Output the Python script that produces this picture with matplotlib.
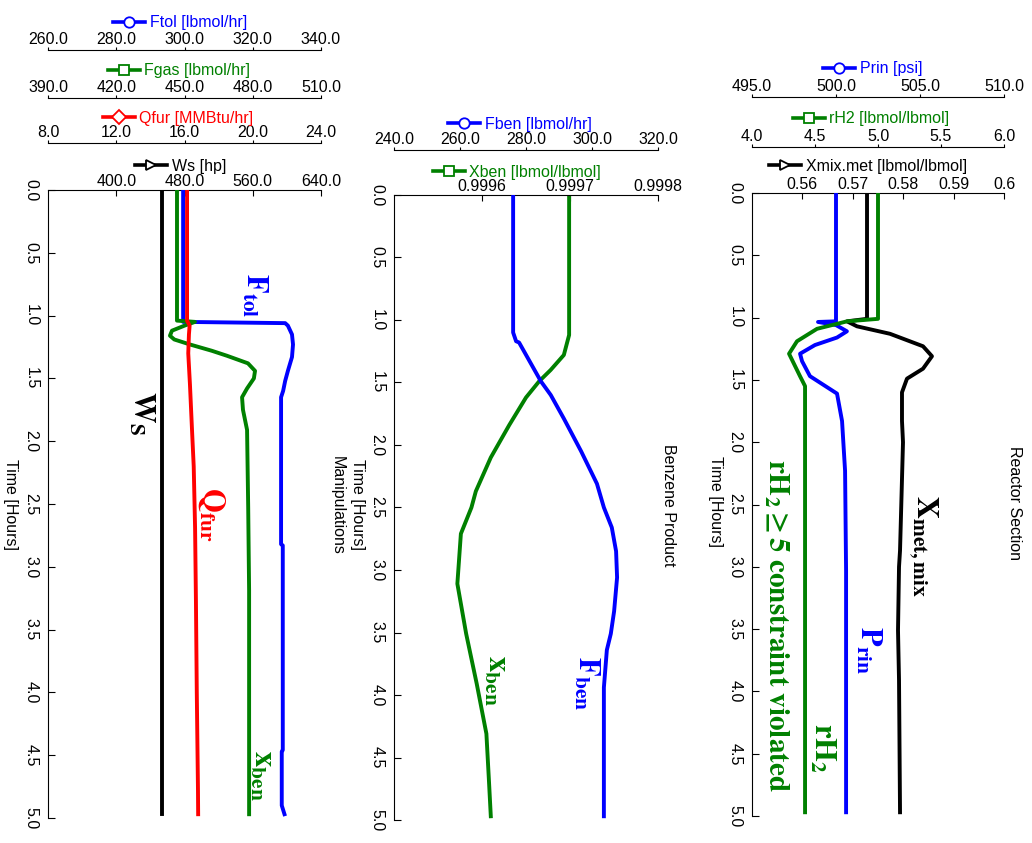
import matplotlib
matplotlib.use('Agg')
import matplotlib.pyplot as plt
from matplotlib.lines import Line2D

plt.rcParams['font.family'] = ['Liberation Sans', 'DejaVu Sans']
plt.rcParams['mathtext.fontset'] = 'stix'

# ---- data (time in hours, values in each variable's own units) ----
time_ticks = [0, 0.5, 1, 1.5, 2, 2.5, 3, 3.5, 4, 4.5, 5]
time_labels = ['0.0', '0.5', '1.0', '1.5', '2.0', '2.5', '3.0', '3.5', '4.0', '4.5', '5.0']

# Manipulations
ws_t = [0, 4.97]
ws = [454, 454]
ftol_t = [0, 1.05, 1.06, 1.08, 1.15, 1.23, 1.33, 1.44, 1.52, 1.60, 1.65, 2.82, 2.83, 4.46, 4.47, 4.90, 4.97]
ftol = [299.6, 299.6, 329.5, 330.3, 331.5, 331.8, 331.5, 330.3, 329.5, 328.9, 328.3, 328.3, 328.8, 328.8, 328.5, 328.5, 329.3]
fgas_t = [0, 1.04, 1.05, 1.08, 1.12, 1.16, 1.19, 1.23, 1.28, 1.32, 1.38, 1.44, 1.50, 1.58, 1.65, 1.75, 1.91, 2.53, 3.19, 4.97]
fgas = [446.7, 446.7, 454.6, 450.0, 444.5, 443.6, 445.5, 452.4, 462.0, 468.7, 477.9, 481.0, 480.5, 477.5, 475.3, 475.7, 477.5, 478.0, 478.4, 478.4]
qfur_t = [0, 1.04, 1.08, 1.15, 1.30, 1.55, 1.91, 2.20, 2.69, 3.27, 4.00, 4.78, 4.97]
qfur = [16.15, 16.15, 16.30, 16.26, 16.22, 16.32, 16.44, 16.54, 16.62, 16.67, 16.72, 16.79, 16.80]

# Benzene product
fben_t = [0, 1.10, 1.17, 1.18, 1.49, 1.60, 1.79, 2.05, 2.31, 2.50, 2.66, 2.85, 3.06, 3.33, 3.51, 3.64, 3.94, 4.97]
fben = [276.1, 276.1, 277.0, 277.9, 284.5, 287.5, 291.5, 296.7, 301.5, 303.6, 306.0, 307.3, 307.6, 306.7, 305.7, 304.5, 303.6, 303.6]
xben_t = [0, 1.12, 1.28, 1.40, 1.49, 1.62, 1.84, 2.10, 2.37, 2.50, 2.71, 3.11, 3.51, 3.91, 4.31, 4.70, 4.97]
xben = [0.999699, 0.999699, 0.999693, 0.999678, 0.999665, 0.999650, 0.999631, 0.999610, 0.999593,
        0.999588, 0.999576, 0.999572, 0.999582, 0.999594, 0.999605, 0.999608, 0.999610]

# Reactor section
prin_t = [0, 1.03, 1.035, 1.06, 1.11, 1.16, 1.22, 1.29, 1.35, 1.47, 1.61, 1.83, 2.23, 3.03, 4.97]
prin = [500.0, 500.0, 498.93, 500.0, 500.65, 500.06, 498.75, 497.86, 497.98, 498.45, 500.06, 500.36, 500.54, 500.60, 500.60]
rh2_t = [0, 1.01, 1.03, 1.09, 1.19, 1.29, 1.47, 1.55, 4.97]
rh2 = [5.0, 5.0, 4.754, 4.516, 4.357, 4.294, 4.381, 4.421, 4.421]
xmix_t = [0, 1.01, 1.03, 1.07, 1.13, 1.23, 1.31, 1.41, 1.49, 1.60, 1.83, 2.0, 2.87, 3.0, 3.51, 3.91, 4.97]
xmix = [0.57282, 0.57282, 0.56885, 0.57083, 0.57738, 0.58393, 0.58571, 0.58393, 0.58075,
        0.57976, 0.57976, 0.57996, 0.57937, 0.57917, 0.57897, 0.57917, 0.57937]

BLUE, GREEN, RED, BLACK = '#0000ff', '#008000', '#ff0000', '#000000'
FS = 11.5
W, H = 1032, 843
fig = plt.figure(figsize=(W / 100, H / 100), dpi=100)


def fx(px):
    return px / W


def fy(py):
    return 1 - py / H


def header(ax, text, color, marker, cx, cy):
    h = Line2D([], [], color=color, lw=2.6, marker=marker, markersize=7.5,
               mfc='white', mew=1.3)
    ax.legend([h], [text], loc='center', bbox_to_anchor=(fx(cx), fy(cy)),
              bbox_transform=fig.transFigure, frameon=False, fontsize=FS,
              handlelength=2.0, handletextpad=0.3, borderpad=0, labelcolor=color)


def panel(x0, x1, y0, y1, main, floats):
    ax = fig.add_axes([fx(x0), fy(y1), (x1 - x0) / W, (y1 - y0) / H])
    ax.set_ylim(5, 0)
    ax.set_yticks(time_ticks)
    ax.set_yticklabels(time_labels, rotation=-90, va='center', ha='right', fontsize=FS)
    ax.tick_params(axis='y', direction='in', length=5, pad=7, width=0.8)
    ax.spines[['right', 'bottom']].set_visible(False)
    t, v, col, lab, mk, lim, ticks, tl, hx, hy = main
    ax.plot(v, t, color=col, lw=2.8, solid_joinstyle='round')
    ax.set_xlim(*lim)
    for off, (t2, v2, col2, lab2, mk2, lim2, ticks2, tl2, hx2, hy2) in floats:
        tw = ax.twiny()
        tw.spines[['left', 'right', 'bottom']].set_visible(False)
        tw.spines['top'].set_position(('axes', 1 + off / (y1 - y0)))
        tw.plot(v2, t2, color=col2, lw=2.8, solid_joinstyle='round')
        tw.set_xlim(*lim2)
        tw.set_xticks(ticks2)
        tw.set_xticklabels(tl2)
        tw.tick_params(axis='x', direction='out', length=2.5, pad=0, width=0.8, labelsize=FS)
        header(tw, lab2, col2, mk2, hx2, hy2)
    # twiny() moves the main ticks to the bottom, so put them back on top
    ax.xaxis.tick_top()
    ax.set_xticks(ticks)
    ax.set_xticklabels(tl)
    ax.tick_params(axis='x', direction='in', length=4, pad=0.5, width=0.8, labelsize=FS)
    header(ax, lab, col, mk, hx, hy)
    return ax


panel(48, 321, 190, 818,
      (ws_t, ws, BLACK, 'Ws [hp]', '>', (320, 640), [400, 480, 560, 640],
       ['400.0', '480.0', '560.0', '640.0'], 181, 166),
      [(140, (ftol_t, ftol, BLUE, 'Ftol [lbmol/hr]', 'o', (260, 340), [260, 280, 300, 320, 340],
              ['260.0', '280.0', '300.0', '320.0', '340.0'], 180, 23)),
       (92, (fgas_t, fgas, GREEN, 'Fgas [lbmol/hr]', 's', (390, 510), [390, 420, 450, 480, 510],
             ['390.0', '420.0', '450.0', '480.0', '510.0'], 179, 71)),
       (47, (qfur_t, qfur, RED, 'Qfur [MMBtu/hr]', 'D', (8, 24), [8, 12, 16, 20, 24],
             ['8.0', '12.0', '16.0', '20.0', '24.0'], 178, 118))])

panel(394, 658, 195, 820,
      (xben_t, xben, GREEN, 'Xben [lbmol/lbmol]', 's', (0.9995, 0.9998), [0.9996, 0.9997, 0.9998],
       ['0.9996', '0.9997', '0.9998'], 517, 172),
      [(45, (fben_t, fben, BLUE, 'Fben [lbmol/hr]', 'o', (240, 320), [240, 260, 280, 300, 320],
             ['240.0', '260.0', '280.0', '300.0', '320.0'], 520, 124))])

panel(752, 1004, 193, 816,
      (xmix_t, xmix, BLACK, 'Xmix.met [lbmol/lbmol]', '>', (0.55, 0.60), [0.56, 0.57, 0.58, 0.59, 0.60],
       ['0.56', '0.57', '0.58', '0.59', '0.6'], 868, 166),
      [(96, (prin_t, prin, BLUE, 'Prin [psi]', 'o', (495, 510), [495, 500, 505, 510],
             ['495.0', '500.0', '505.0', '510.0'], 873, 69)),
       (46, (rh2_t, rh2, GREEN, 'rH2 [lbmol/lbmol]', 's', (4, 6), [4, 4.5, 5, 5.5, 6],
             ['4.0', '4.5', '5.0', '5.5', '6.0'], 871, 119))])

# axis titles and panel titles (rotated like the rest of the figure)
for x, y, s in [(10, 505, 'Time [Hours]'), (357, 505, 'Time [Hours]'), (715, 501, 'Time [Hours]'),
                (337, 505, 'Manipulations'), (668, 505, 'Benzene Product'), (1015, 503, 'Reactor Section')]:
    fig.text(fx(x), fy(y), s, rotation=-90, ha='center', va='center', fontsize=FS)

# curve annotations
for x, y, s, c in [(255, 295, r'$\mathbf{F_{tol}}$', BLUE),
                   (143, 413, r'$\mathbf{W_S}$', BLACK),
                   (211, 514, r'$\mathbf{Q_{fur}}$', RED),
                   (263, 775, r'$\mathbf{x_{ben}}$', GREEN),
                   (497, 680, r'$\mathbf{x_{ben}}$', GREEN),
                   (586, 683, r'$\mathbf{F_{ben}}$', BLUE),
                   (923, 546, r'$\mathbf{X_{met,mix}}$', BLACK),
                   (869, 650, r'$\mathbf{P_{rin}}$', BLUE),
                   (823, 748, r'$\mathbf{rH_2}$', GREEN)]:
    fig.text(fx(x), fy(y), s, rotation=-90, ha='center', va='center', fontsize=22, color=c)
fig.text(fx(776), fy(625), r'$\mathbf{rH_2 \geq 5\ constraint\ violated}$', rotation=-90,
         ha='center', va='center', fontsize=21, color=GREEN)

fig.savefig('out.png', dpi=100)
